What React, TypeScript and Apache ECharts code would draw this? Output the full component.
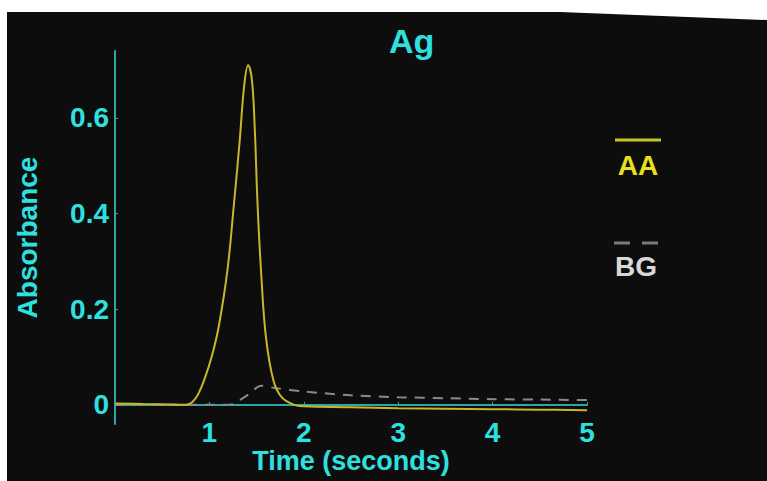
import React, { useEffect, useRef } from "react";
import * as echarts from "echarts";

const aaTime = [0, 0.3, 0.6, 0.75, 0.82, 0.88, 0.95, 1.03, 1.1, 1.19, 1.26, 1.32, 1.37, 1.41, 1.45, 1.48, 1.51, 1.55, 1.6, 1.68, 1.77, 1.9, 2.0, 2.5, 3, 3.5, 4, 4.5, 5];
const aaAbs = [0.003, 0.002, 0.001, 0.0, 0.006, 0.022, 0.055, 0.105, 0.165, 0.28, 0.42, 0.55, 0.67, 0.71, 0.68, 0.58, 0.42, 0.27, 0.14, 0.05, 0.015, 0.0, -0.003, -0.005, -0.007, -0.008, -0.009, -0.01, -0.011];

const bgTime = [0, 0.6, 1.2, 1.4, 1.55, 1.7, 2.0, 2.5, 3, 3.5, 4, 4.5, 5];
const bgAbs = [0, 0, 0, 0.02, 0.04, 0.035, 0.028, 0.02, 0.016, 0.014, 0.012, 0.011, 0.01];

const yTicks = [0, 0.2, 0.4, 0.6];
const xTicks = [1, 2, 3, 4, 5];

const titleText = "Ag";
const xName = "Time (seconds)";
const yName = "Absorbance";
const seriesNames = ["AA", "BG"];

const CYAN = "#2ee0e0";
const AXIS = "#2aa7a7";
const YELLOW = "#c9b62b";
const FONT = "'Liberation Sans', Arial, sans-serif";

export default function App() {
  const ref = useRef<HTMLDivElement>(null);
  useEffect(() => {
    if (!ref.current) return;
    const chart = echarts.init(ref.current, null, { renderer: "svg" });
    chart.setOption({
      animation: false,
      backgroundColor: "#0d0d0d",
      title: {
        text: titleText,
        left: 384,
        top: 19,
        textStyle: { color: CYAN, fontSize: 34, fontWeight: "bold", fontFamily: FONT },
      },
      grid: { left: 115, right: 180, top: 51, bottom: 57, outerBoundsMode: "none", containLabel: false },
      xAxis: {
        type: "value",
        min: 0,
        max: 5,
        name: xName,
        nameLocation: "middle",
        nameGap: 23,
        nameMoveOverlap: false,
        nameTextStyle: { color: CYAN, fontSize: 27, lineHeight: 27, fontWeight: "bold", fontFamily: FONT },
        axisLine: { onZero: true, lineStyle: { color: AXIS, width: 2 } },
        axisTick: { show: true, length: 3, inside: true, customValues: xTicks, lineStyle: { color: AXIS } },
        splitLine: { show: false },
        axisLabel: {
          customValues: xTicks,
          color: CYAN,
          fontSize: 28,
          lineHeight: 28,
          fontWeight: "bold",
          fontFamily: FONT,
          margin: -6,
        },
      },
      yAxis: {
        type: "value",
        min: -0.04,
        max: 0.74,
        name: yName,
        nameLocation: "middle",
        nameGap: 74,
        nameTextStyle: { color: CYAN, fontSize: 28, fontWeight: "bold", fontFamily: FONT },
        axisLine: { show: true, lineStyle: { color: AXIS, width: 2 } },
        axisTick: { show: true, length: 3, inside: true, customValues: yTicks, lineStyle: { color: AXIS } },
        splitLine: { show: false },
        axisLabel: {
          customValues: yTicks,
          formatter: (v: number) => (v === 0 ? "0" : v.toFixed(1)),
          color: CYAN,
          fontSize: 28,
          fontWeight: "bold",
          fontFamily: FONT,
          margin: 6,
        },
      },
      series: [
        {
          name: seriesNames[1],
          type: "line",
          smooth: 0.3,
          showSymbol: false,
          data: bgTime.map((t, i) => [t, bgAbs[i]]),
          lineStyle: { color: "#8a8a8a", width: 2, type: [10, 8] },
          z: 2,
        },
        {
          name: seriesNames[0],
          type: "line",
          smooth: 0.4,
          showSymbol: false,
          data: aaTime.map((t, i) => [t, aaAbs[i]]),
          lineStyle: { color: YELLOW, width: 2 },
          z: 3,
        },
      ],
      graphic: [
        { type: "polygon", z: 100, shape: { points: [[0, 0], [767, 0], [767, 20], [560, 12], [0, 12]] }, style: { fill: "#ffffff" } },
        { type: "rect", z: 100, shape: { x: 0, y: 0, width: 7, height: 481 }, style: { fill: "#ffffff" } },
        { type: "line", shape: { x1: 615, y1: 140, x2: 661, y2: 140 }, style: { stroke: "#c9c22a", lineWidth: 3 } },
        {
          type: "text",
          x: 638,
          y: 165,
          style: { text: seriesNames[0], fill: "#e6e01e", font: `bold 28px ${FONT}`, align: "center", verticalAlign: "middle" },
        },
        { type: "line", shape: { x1: 614, y1: 243, x2: 660, y2: 243 }, style: { stroke: "#7a7a7a", lineWidth: 3, lineDash: [16, 12] } },
        {
          type: "text",
          x: 636,
          y: 266,
          style: { text: seriesNames[1], fill: "#d8d8d8", font: `bold 28px ${FONT}`, align: "center", verticalAlign: "middle" },
        },
      ],
    });
    return () => chart.dispose();
  }, []);
  return <div ref={ref} style={{ position: "fixed", left: 0, top: 0, width: 767, height: 481 }} />;
}
